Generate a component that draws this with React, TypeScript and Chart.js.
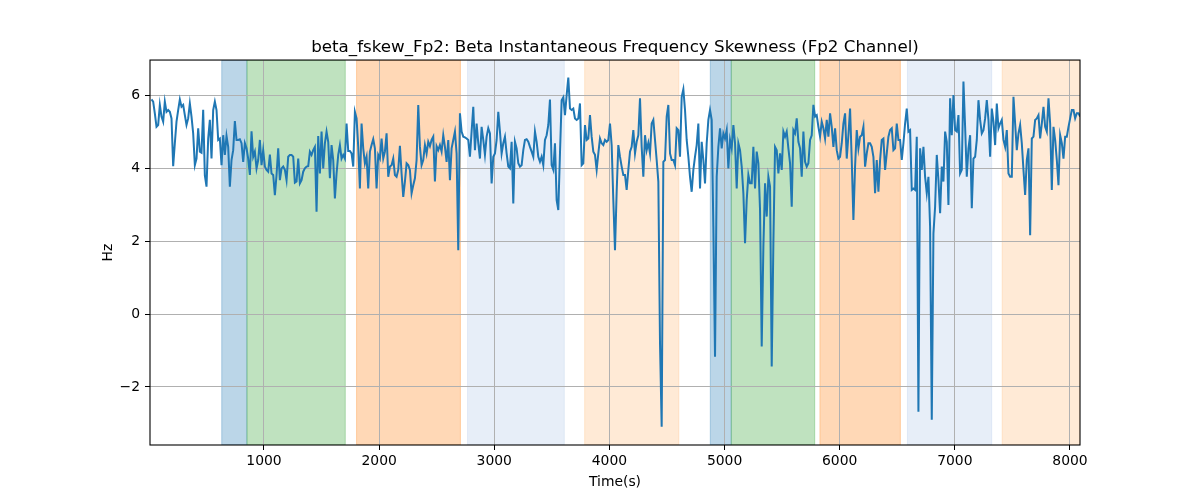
import React, { useEffect, useRef } from 'react';
import { Chart, registerables } from 'chart.js';

Chart.register(...registerables);

// sample timing of the skewness trace (seconds)
const timeStart = 23;
const timeStep = 14.48;

const skewness: number[] = [
    5.88, 5.82, 5.5, 5.13, 5.18, 5.73, 5.41, 5.27, 5.82, 5.54,
    5.59, 5.54, 5.36, 4.05, 4.68, 5.27, 5.59, 5.88, 5.68, 5.73,
    5.45, 5.18, 5.36, 5.77, 5.41, 4.95, 4.08, 4.26, 5.09, 4.45,
    4.42, 5.6, 3.8, 3.49, 4.81, 5.32, 4.26, 5.59, 5.82, 5.59,
    4.77, 4.81, 4.08, 4.9, 4.36, 4.88, 4.58, 3.49, 4.22, 4.49,
    5.29, 4.77, 4.77, 4.79, 4.68, 4.17, 4.68, 4.54, 4.26, 3.81,
    5.01, 4.31, 4.45, 3.99, 4.22, 4.77, 4.08, 4.49, 4.04, 3.95,
    3.9, 4.37, 3.85, 3.81, 3.26, 3.81, 4.54, 3.67, 3.99, 4.04,
    3.95, 3.67, 4.31, 4.36, 4.36, 4.31, 3.6, 3.63, 4.26, 3.58,
    3.67, 3.9, 3.99, 4.04, 4.05, 4.45, 4.36, 4.49,

    4.58, 2.8, 4.88, 3.85, 5.0, 3.99, 4.68, 5.0, 4.72, 3.72,
    4.63, 4.22, 3.17, 3.85, 4.36, 4.63, 4.26, 4.36, 4.26, 5.22,
    4.47, 4.47, 4.4, 4.04, 5.54, 5.36, 4.58, 3.44, 5.22, 4.54,
    4.13, 4.31, 3.44, 4.45, 4.63, 4.79, 4.54, 3.44, 4.36, 4.26,
    4.81, 4.26, 4.45, 4.95, 3.76, 4.04, 4.08, 4.26, 3.81, 3.76,
    3.95, 4.61, 3.85, 3.21, 3.63, 4.13, 4.08, 3.95, 3.31, 3.53,
    3.72, 4.22, 5.73, 4.58, 4.08, 4.22, 4.63, 4.4, 4.72, 4.6,
    4.77, 4.86, 3.63, 4.6, 4.49, 4.63, 4.45, 4.9, 4.58, 4.17,
    4.77, 3.67, 4.54, 4.77, 5.0, 4.4, 1.75, 5.5, 5.0, 4.86,
    4.84, 4.81, 4.77, 4.31, 5.0, 5.68,

    4.49, 5.22, 4.68, 4.26, 5.13, 4.77, 4.36, 4.86, 5.09, 4.95,
    3.58, 4.31, 4.4, 4.77, 5.54, 5.0, 4.4, 4.68, 4.86, 4.4,
    4.04, 3.99, 4.72, 3.03, 4.72, 4.54, 4.13, 4.04, 4.08, 4.49,
    4.77, 4.79, 4.72, 4.58, 4.45, 4.31, 5.0, 4.72, 4.31, 4.17,
    4.31, 4.08, 4.77, 4.9, 5.18, 5.88, 4.08, 3.95, 4.68, 3.12,
    2.85, 4.4, 5.86, 5.94, 5.45, 6.0, 6.48, 5.63, 5.59, 5.63,
    5.36, 5.32, 5.36, 5.77, 4.08, 4.13, 5.18, 4.77, 4.81, 5.45,
    4.86, 4.45, 4.36, 3.95, 4.4, 4.81, 4.68, 4.63, 4.77, 4.72,
    4.77, 5.22, 4.63, 3.12, 1.75, 3.35, 4.63, 4.31, 4.04, 3.81,
    3.81, 3.4, 3.95, 4.45, 4.58, 5.04,

    4.4, 4.72, 4.9, 5.91, 4.58, 3.76, 4.9, 4.49, 4.69, 4.4,
    5.22, 5.32, 4.77, 4.22, 3.63, -0.8, -3.09, 4.17, 4.22, 5.41,
    5.73, 4.4, 4.22, 4.22, 4.08, 5.09, 5.04, 4.31, 5.95, 6.16,
    5.59, 4.77, 4.31, 3.76, 3.35, 3.95, 4.31, 4.63, 5.22, 3.44,
    4.72, 4.22, 3.58, 4.68, 5.32, 5.59, 5.32, 2.39, -1.17, 3.76,
    4.58, 5.09, 4.54, 4.95, 4.81, 5.04, 3.99, 4.77, 4.54, 5.18,
    4.68, 3.44, 4.68, 4.49, 4.04, 3.31, 1.94, 3.12, 3.81, 3.58,
    3.58, 4.58, 3.44, 4.45, 4.13, 2.85, -0.89, 1.84, 3.58, 2.67,
    3.76, 3.49, -1.44, 1.94, 4.58, 4.49, 3.85, 4.4, 3.95, 5.0,
    4.86, 5.0, 4.54, 4.13, 2.94, 5.04,

    4.95, 5.36, 4.72, 4.54, 3.76, 5.0, 4.17, 4.04, 4.13, 4.77,
    4.9, 5.73, 5.41, 5.45, 5.13, 4.86, 5.27, 5.09, 4.81, 5.32,
    4.86, 5.5, 5.13, 4.58, 5.09, 4.49, 4.26, 4.31, 4.68, 5.22,
    5.5, 4.26, 4.9, 5.63, 4.22, 2.58, 4.04, 5.04, 4.54, 4.86,
    4.9, 5.13, 4.04, 4.4, 4.68, 4.68, 4.58, 4.31, 3.31, 4.22,
    3.35, 4.22, 4.77, 4.81, 3.95, 4.4, 4.86, 5.04, 5.09, 4.49,
    4.54, 5.22, 4.77, 4.77, 4.22, 4.68, 5.22, 5.63, 5.0, 5.04,
    3.4, 3.44, 3.4, 4.86, -2.68, 4.54, 3.95, 4.58, 3.76, 3.31,
    3.76, 2.39, -2.9, 2.21, 2.94, 4.36, 3.67, 2.76, 4.04, 3.63,
    5.0, 4.72, 2.99, 5.91, 4.9, 6.0,

    5.04, 5.0, 5.45, 3.85, 3.95, 6.37, 5.13, 3.76, 4.54, 4.9,
    2.9, 4.26, 4.31, 4.77, 5.86, 5.32, 4.95, 5.04, 5.36, 5.86,
    5.32, 4.31, 5.63, 5.27, 4.63, 5.77, 5.09, 5.22, 5.32, 4.77,
    4.58, 5.04, 3.85, 3.76, 3.76, 5.95, 5.22, 4.49, 4.95, 5.18,
    4.68, 3.95, 3.26, 4.22, 4.54, 2.16, 4.81, 4.86, 5.32, 5.36,
    5.45, 4.81, 5.22, 5.68, 5.13, 5.0, 5.91, 5.22, 3.4, 5.13,
    4.77, 4.22, 3.53, 4.9, 4.68, 4.26, 4.86, 4.86, 5.13, 5.36,
    5.59, 5.59, 5.36, 5.5, 5.5, 5.41,
];

// shaded intervals (seconds) and which group each one belongs to
const spanStarts = [633, 852, 1804, 2768, 3785, 4876, 5058, 5828, 6588, 7411];
const spanEnds = [852, 1706, 2706, 3608, 4603, 5058, 5783, 6527, 7320, 8087];
const spanGroups = [0, 1, 2, 3, 4, 0, 1, 2, 3, 4];

const xTicks = [1000, 2000, 3000, 4000, 5000, 6000, 7000, 8000];
const yTicks = [-2, 0, 2, 4, 6];

const spanFill = [
    'rgba(31,119,180,0.3)',
    'rgba(44,160,44,0.3)',
    'rgba(255,127,14,0.3)',
    'rgba(174,199,232,0.3)',
    'rgba(255,187,120,0.3)',
];

const FONT = 'DejaVu Sans';

const spanPlugin = {
    id: 'spans',
    beforeDraw(chart: Chart) {
        const { ctx, chartArea, scales } = chart;
        ctx.save();
        ctx.beginPath();
        ctx.rect(chartArea.left, chartArea.top, chartArea.width, chartArea.height);
        ctx.clip();
        spanStarts.forEach((start, i) => {
            const x0 = scales.x.getPixelForValue(start);
            const x1 = scales.x.getPixelForValue(spanEnds[i]);
            ctx.fillStyle = spanFill[spanGroups[i]];
            ctx.fillRect(x0, chartArea.top, x1 - x0, chartArea.height);
            ctx.strokeStyle = spanFill[spanGroups[i]];
            ctx.lineWidth = 1;
            ctx.strokeRect(x0, chartArea.top, x1 - x0, chartArea.height);
        });
        ctx.restore();
    },
    afterDraw(chart: Chart) {
        const { ctx, chartArea } = chart;
        ctx.save();
        ctx.strokeStyle = '#000';
        ctx.lineWidth = 1.1;
        ctx.strokeRect(chartArea.left, chartArea.top, chartArea.width, chartArea.height);
        ctx.restore();
    },
};

const SkewnessChart: React.FC = () => {
    const canvasRef = useRef<HTMLCanvasElement>(null);
    const chartRef = useRef<Chart | null>(null);

    useEffect(() => {
        if (!canvasRef.current) return;
        if (chartRef.current) chartRef.current.destroy();

        const points = skewness.map((y, i) => ({ x: timeStart + i * timeStep, y }));
        const tickFont = { family: FONT, size: 13.9 };

        chartRef.current = new Chart(canvasRef.current, {
            type: 'line',
            data: {
                datasets: [
                    {
                        label: 'beta_fskew_Fp2',
                        data: points,
                        borderColor: '#1f77b4',
                        borderWidth: 2,
                        pointRadius: 0,
                        tension: 0,
                        fill: false,
                    },
                ],
            },
            options: {
                responsive: false,
                animation: false,
                layout: { padding: { left: 0, right: 120, top: 0, bottom: 0 } },
                plugins: {
                    legend: { display: false },
                    tooltip: { enabled: false },
                    title: {
                        display: true,
                        text: 'beta_fskew_Fp2: Beta Instantaneous Frequency Skewness (Fp2 Channel)',
                        color: '#000',
                        font: { family: FONT, size: 16.7, weight: 'normal' },
                        padding: { top: 38, bottom: 2 },
                        fullSize: false,
                    },
                },
                scales: {
                    x: {
                        type: 'linear',
                        min: 10,
                        max: 8087,
                        afterBuildTicks: (axis: any) => {
                            axis.ticks = xTicks.map((value) => ({ value }));
                        },
                        afterFit: (axis: any) => {
                            axis.height = 55;
                        },
                        ticks: {
                            color: '#000',
                            font: tickFont,
                            padding: 3,
                            maxRotation: 0,
                            autoSkip: false,
                            callback: (v: any) => String(v),
                        },
                        grid: {
                            color: '#b0b0b0',
                            lineWidth: 1,
                            tickColor: '#000',
                            tickLength: 5,
                            tickWidth: 1,
                        },
                        border: { display: false },
                        title: {
                            display: true,
                            text: 'Time(s)',
                            color: '#000',
                            font: tickFont,
                            padding: { top: 0, bottom: 9 },
                        },
                    },
                    y: {
                        type: 'linear',
                        min: -3.59,
                        max: 6.96,
                        afterBuildTicks: (axis: any) => {
                            axis.ticks = yTicks.map((value) => ({ value }));
                        },
                        afterFit: (axis: any) => {
                            axis.width = 150;
                        },
                        ticks: {
                            color: '#000',
                            font: tickFont,
                            padding: 5,
                            callback: (v: any) => (v < 0 ? '\u2212' + Math.abs(v) : String(v)),
                        },
                        grid: {
                            color: '#b0b0b0',
                            lineWidth: 1,
                            tickColor: '#000',
                            tickLength: 5,
                            tickWidth: 1,
                        },
                        border: { display: false },
                        title: {
                            display: true,
                            text: 'Hz',
                            color: '#000',
                            font: tickFont,
                            padding: { top: 100, bottom: 0 },
                        },
                    },
                },
            },
            plugins: [spanPlugin],
        });

        return () => {
            if (chartRef.current) {
                chartRef.current.destroy();
                chartRef.current = null;
            }
        };
    }, []);

    return (
        <div style={{ position: 'absolute', left: 0, top: 0, width: 1200, height: 500, background: '#fff' }}>
            <canvas ref={canvasRef} width={1200} height={500} />
        </div>
    );
};

export default function App() {
    return <SkewnessChart />;
}
